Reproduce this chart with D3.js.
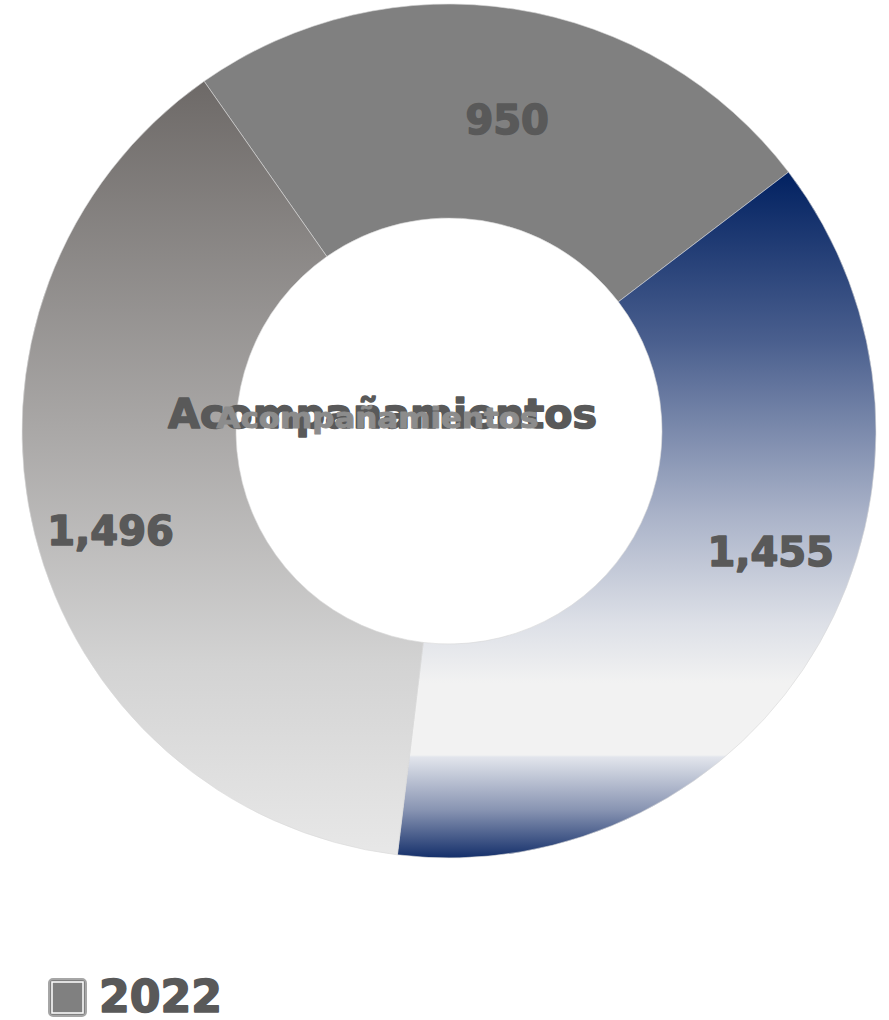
<!DOCTYPE html>
<html><head><meta charset="utf-8">
<script src="https://cdn.jsdelivr.net/npm/d3@7/dist/d3.min.js"></script>
<style>html,body{margin:0;padding:0;background:#fff;}svg{display:block;}</style>
</head><body>
<svg id="chart" width="889" height="1020"></svg>
<script>
const categories = ["A", "B", "C"];
const values = [950, 1455, 1496];
const valueLabels = ["950", "1,455", "1,496"];
const centerTitle = "Acompañamientos";
const legendLabels = ["2022"];

const W = 889, H = 1020;
const cx = 449, cy = 431, outerR = 427, innerR = 213;
const startAngle = -35 * Math.PI / 180;
const labelNudge = [[9, 5], [44, -38], [-28, 22]];

const svg = d3.select("#chart");
const defs = svg.append("defs");

// gradient for slice B (blue)
const gB = defs.append("linearGradient").attr("id", "gradB")
  .attr("gradientUnits", "userSpaceOnUse")
  .attr("x1", 0).attr("x2", 0).attr("y1", -262).attr("y2", 427);
const hB = 689;
[[0, "#002060"], [0.25, "#4a5f8e"], [0.5, "#a9b2c8"], [0.66, "#dde0e7"], [(683 - 169) / hB, "#f2f2f2"], [(755 - 169) / hB, "#f2f2f2"], [(757 - 169) / hB, "#e2e5ec"], [(810 - 169) / hB, "#8894b2"], [1, "#142f6a"]]
  .forEach(s => gB.append("stop").attr("offset", s[0]).attr("stop-color", s[1]));

// gradient for slice C (gray)
const gC = defs.append("linearGradient").attr("id", "gradC")
  .attr("gradientUnits", "userSpaceOnUse")
  .attr("x1", 0).attr("x2", 0).attr("y1", -346).attr("y2", 427);
[[0, "#6e6a68"], [0.45, "#aaa8a7"], [0.75, "#d3d3d3"], [1, "#e8e8e8"]]
  .forEach(s => gC.append("stop").attr("offset", s[0]).attr("stop-color", s[1]));

const fills = ["#808080", "url(#gradB)", "url(#gradC)"];

const pie = d3.pie().sort(null).value(d => d)
  .startAngle(startAngle).endAngle(startAngle + 2 * Math.PI);
const arcs = pie(values);
const arc = d3.arc().innerRadius(innerR).outerRadius(outerR);
const labelArc = d3.arc().innerRadius(320).outerRadius(320);

const g = svg.append("g").attr("transform", `translate(${cx},${cy})`);
g.selectAll("path.slice").data(arcs).join("path")
  .attr("class", "slice")
  .attr("d", arc)
  .attr("fill", (d, i) => fills[i])
  .attr("stroke", "#d9d9d9").attr("stroke-width", 0.6);

g.selectAll("text.val").data(arcs).join("text")
  .attr("class", "val")
  .attr("transform", (d, i) => {
    const c = labelArc.centroid(d);
    return `translate(${c[0] + labelNudge[i][0]},${c[1] + labelNudge[i][1]})`;
  })
  .attr("text-anchor", "middle").attr("dy", "0.36em")
  .attr("font-family", "DejaVu Sans").attr("font-weight", "bold")
  .attr("font-size", 40).attr("fill", "#595959")
  .attr("stroke", "#595959").attr("stroke-width", 1.6).attr("stroke-linejoin", "round")
  .text((d, i) => valueLabels[i]);

// center titles
svg.append("text").attr("x", 382.5).attr("y", 428)
  .attr("text-anchor", "middle")
  .attr("font-family", "DejaVu Sans").attr("font-weight", "bold")
  .attr("font-size", 41).attr("fill", "#595959")
  .attr("stroke", "#595959").attr("stroke-width", 1.6).attr("stroke-linejoin", "round")
  .attr("textLength", 429).attr("lengthAdjust", "spacingAndGlyphs")
  .text(centerTitle);
svg.append("text").attr("x", 377.5).attr("y", 428)
  .attr("text-anchor", "middle")
  .attr("font-family", "DejaVu Sans").attr("font-weight", "bold")
  .attr("font-size", 29).attr("fill", "#8c8c8c")
  .attr("stroke", "#8c8c8c").attr("stroke-width", 1).attr("stroke-linejoin", "round")
  .attr("textLength", 322).attr("lengthAdjust", "spacingAndGlyphs")
  .text(centerTitle);

// legend
const lg = svg.append("g").attr("class", "legend");
lg.append("rect").attr("x", 49).attr("y", 979).attr("width", 37).attr("height", 37)
  .attr("rx", 4).attr("fill", "#808080").attr("stroke", "#a6a6a6").attr("stroke-width", 2);
lg.append("rect").attr("x", 52).attr("y", 982).attr("width", 31).attr("height", 31)
  .attr("fill", "none").attr("stroke", "#ffffff").attr("stroke-width", 1.5);
lg.append("text").attr("x", 99).attr("y", 1012)
  .attr("font-family", "DejaVu Sans").attr("font-weight", "bold")
  .attr("font-size", 45).attr("fill", "#595959")
  .attr("stroke", "#595959").attr("stroke-width", 1.6).attr("stroke-linejoin", "round")
  .attr("textLength", 123).attr("lengthAdjust", "spacingAndGlyphs")
  .text(legendLabels[0]);
</script>
</body></html>
